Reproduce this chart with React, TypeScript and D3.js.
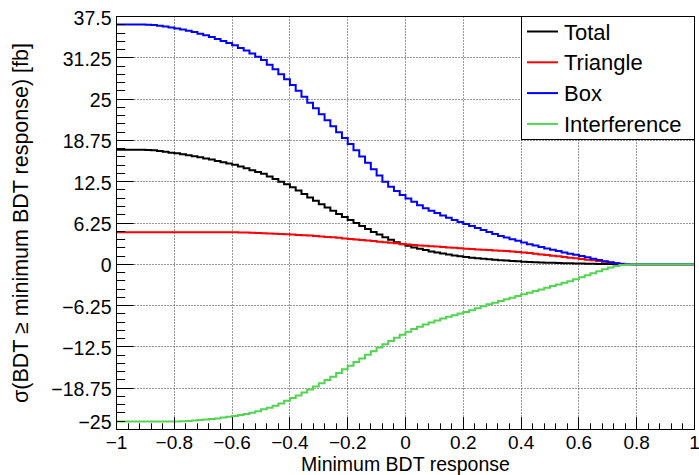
import React, { useEffect, useRef } from 'react';
import * as d3 from 'd3';

// 100 bins from -1 to 1, cumulative cross-section above the cut
const xMin = -1;
const xMax = 1;
const nBins = 100;

const total = [
  17.35, 17.35, 17.35, 17.35, 17.35, 17.3, 17.25, 17.15, 17.05, 16.9,
  16.8, 16.65, 16.5, 16.35, 16.2, 16.0, 15.85, 15.65, 15.45, 15.25,
  15.05, 14.8, 14.55, 14.25, 13.95, 13.7, 13.3, 12.9, 12.5, 12.1,
  11.65, 11.15, 10.65, 10.1, 9.6, 9.1, 8.6, 8.1, 7.6, 7.15,
  6.7, 6.25, 5.8, 5.35, 4.9, 4.5, 4.1, 3.7, 3.35, 3.05,
  2.8, 2.55, 2.35, 2.15, 1.95, 1.8, 1.65, 1.5, 1.35, 1.2,
  1.1, 1.0, 0.92, 0.84, 0.76, 0.7, 0.63, 0.57, 0.51, 0.45,
  0.4, 0.36, 0.32, 0.28, 0.25, 0.22, 0.19, 0.17, 0.15, 0.13,
  0.11, 0.09, 0.08, 0.06, 0.05, 0.04, 0.03, 0.02, 0.01, 0,
  0, 0, 0, 0, 0, 0, 0, 0, 0, 0
];

const triangle = [
  4.85, 4.85, 4.85, 4.85, 4.85, 4.85, 4.85, 4.85, 4.85, 4.85,
  4.85, 4.85, 4.85, 4.85, 4.85, 4.85, 4.85, 4.85, 4.85, 4.85,
  4.84, 4.82, 4.8, 4.77, 4.74, 4.71, 4.68, 4.64, 4.6, 4.55,
  4.5, 4.45, 4.4, 4.34, 4.28, 4.22, 4.15, 4.08, 4.0, 3.92,
  3.84, 3.76, 3.68, 3.6, 3.52, 3.43, 3.35, 3.26, 3.17, 3.08,
  3.0, 2.93, 2.86, 2.8, 2.74, 2.68, 2.62, 2.56, 2.5, 2.44,
  2.36, 2.3, 2.25, 2.2, 2.15, 2.1, 2.05, 2.0, 1.95, 1.88,
  1.8, 1.7, 1.6, 1.5, 1.4, 1.3, 1.2, 1.1, 1.0, 0.9,
  0.8, 0.7, 0.6, 0.5, 0.38, 0.27, 0.17, 0.08, 0.03, 0,
  0, 0, 0, 0, 0, 0, 0, 0, 0, 0
];

const box = [
  36.3, 36.3, 36.3, 36.3, 36.3, 36.25, 36.2, 36.1, 36.0, 35.85,
  35.7, 35.55, 35.35, 35.15, 34.9, 34.65, 34.4, 34.1, 33.8, 33.5,
  33.15, 32.75, 32.35, 31.9, 31.4, 30.9, 30.2, 29.5, 28.75, 28.0,
  27.15, 26.25, 25.35, 24.45, 23.6, 22.7, 21.8, 20.9, 20.0, 19.1,
  18.2, 17.25, 16.3, 15.35, 14.4, 13.45, 12.5, 11.75, 11.1, 10.5,
  9.95, 9.45, 8.95, 8.5, 8.1, 7.75, 7.4, 7.05, 6.7, 6.4,
  6.1, 5.8, 5.5, 5.2, 4.9, 4.6, 4.3, 4.05, 3.8, 3.55,
  3.3, 3.05, 2.85, 2.6, 2.4, 2.2, 2.0, 1.8, 1.6, 1.45,
  1.25, 1.05, 0.85, 0.65, 0.45, 0.3, 0.15, 0.05, 0.02, 0.01,
  0, 0, 0, 0, 0, 0, 0, 0, 0, 0
];

const interference = [
  -23.8, -23.8, -23.8, -23.8, -23.8, -23.8, -23.8, -23.8, -23.8, -23.8,
  -23.78, -23.75, -23.7, -23.65, -23.58, -23.5, -23.42, -23.32, -23.2, -23.08,
  -22.95, -22.8, -22.65, -22.45, -22.25, -21.95, -21.7, -21.4, -21.05, -20.65,
  -20.25, -19.85, -19.4, -18.95, -18.5, -18.0, -17.5, -17.0, -16.45, -15.9,
  -15.35, -14.8, -14.25, -13.7, -13.15, -12.6, -12.1, -11.6, -11.1, -10.65,
  -10.2, -9.8, -9.45, -9.1, -8.8, -8.5, -8.2, -7.95, -7.7, -7.45,
  -7.2, -6.95, -6.65, -6.35, -6.05, -5.8, -5.55, -5.3, -5.05, -4.8,
  -4.55, -4.3, -4.05, -3.8, -3.55, -3.3, -3.05, -2.8, -2.55, -2.25,
  -1.95, -1.65, -1.35, -1.05, -0.75, -0.5, -0.25, -0.1, -0.03, 0,
  0, 0, 0, 0, 0, 0, 0, 0, 0, 0
];

const seriesNames = ['Total', 'Triangle', 'Box', 'Interference'];
const seriesColors = ['#000000', '#ff0000', '#0000ff', '#52d452'];

const xTicks = [-1, -0.8, -0.6, -0.4, -0.2, 0, 0.2, 0.4, 0.6, 0.8, 1];
const yTicks = [37.5, 31.25, 25, 18.75, 12.5, 6.25, 0, -6.25, -12.5, -18.75, -25];

const xTitle = 'Minimum BDT response';
const yTitle = 'σ(BDT ≥ minimum BDT response) [fb]';

const font = "'Liberation Sans', Arial, Helvetica, sans-serif";

function App() {
  const ref = useRef<SVGSVGElement>(null);

  useEffect(() => {
    const W = 699, H = 475;
    const left = 116.5, right = 694.5, top = 16.5, bottom = 429.5;

    const svg = d3.select(ref.current);
    svg.selectAll('*').remove();

    svg.append('rect').attr('width', W).attr('height', H).attr('fill', '#fff');

    const x = d3.scaleLinear().domain([xMin, xMax]).range([left, right]);
    const y = d3.scaleLinear().domain([-25, 37.5]).range([bottom, top]);
    const crisp = (v: number) => Math.round(v - 0.5) + 0.5;

    // grid
    const grid = svg.append('g')
      .attr('stroke', '#333')
      .attr('stroke-width', 1)
      .attr('stroke-dasharray', '1,2');
    xTicks.forEach(t => {
      grid.append('line')
        .attr('x1', crisp(x(t))).attr('x2', crisp(x(t)))
        .attr('y1', top).attr('y2', bottom);
    });
    yTicks.forEach(t => {
      grid.append('line')
        .attr('x1', left).attr('x2', right)
        .attr('y1', crisp(y(t))).attr('y2', crisp(y(t)));
    });

    // histograms
    const binW = (xMax - xMin) / nBins;
    const line = d3.line<[number, number]>()
      .x(d => x(d[0]))
      .y(d => y(d[1]))
      .curve(d3.curveStepAfter);

    const allSeries = [total, triangle, box, interference];
    allSeries.forEach((vals, k) => {
      const pts: [number, number][] = vals.map((v, i) => [xMin + i * binW, v]);
      pts.push([xMax, vals[vals.length - 1]]);
      svg.append('path')
        .attr('d', line(pts))
        .attr('fill', 'none')
        .attr('stroke', seriesColors[k])
        .attr('stroke-width', 2);
    });

    // frame
    svg.append('rect')
      .attr('x', left).attr('y', top)
      .attr('width', right - left).attr('height', bottom - top)
      .attr('fill', 'none').attr('stroke', '#000');

    // ticks
    const ticks = svg.append('g').attr('stroke', '#000').attr('stroke-width', 1);
    const xMajor = 0.03 * (bottom - top);
    const yMajor = 0.03 * (right - left);
    for (let i = 0; i < xTicks.length; i++) {
      const t = xTicks[i];
      ticks.append('line')
        .attr('x1', crisp(x(t))).attr('x2', crisp(x(t)))
        .attr('y1', bottom).attr('y2', bottom - xMajor);
      if (i < xTicks.length - 1) {
        const step = (xTicks[i + 1] - t) / 5;
        for (let j = 1; j < 5; j++) {
          const xv = crisp(x(t + j * step));
          ticks.append('line')
            .attr('x1', xv).attr('x2', xv)
            .attr('y1', bottom).attr('y2', bottom - xMajor / 2);
        }
      }
    }
    for (let i = 0; i < yTicks.length; i++) {
      const t = yTicks[i];
      ticks.append('line')
        .attr('x1', left).attr('x2', left + yMajor)
        .attr('y1', crisp(y(t))).attr('y2', crisp(y(t)));
      if (i < yTicks.length - 1) {
        const step = (yTicks[i + 1] - t) / 5;
        for (let j = 1; j < 5; j++) {
          const yv = crisp(y(t + j * step));
          ticks.append('line')
            .attr('x1', left).attr('x2', left + yMajor / 2)
            .attr('y1', yv).attr('y2', yv);
        }
      }
    }

    const fmt = (v: number) => String(v).replace('-', '\u2212');

    // tick labels
    svg.append('g').selectAll('text')
      .data(xTicks)
      .enter()
      .append('text')
      .attr('x', d => x(d))
      .attr('y', 449)
      .attr('text-anchor', 'middle')
      .style('font-family', font)
      .style('font-size', '19px')
      .text(d => fmt(d));

    // the lowest label is lifted a little, as ROOT does, to clear the x labels
    const yMinTick = yTicks[yTicks.length - 1];
    svg.append('g').selectAll('text')
      .data(yTicks)
      .enter()
      .append('text')
      .attr('x', 111.5)
      .attr('y', d => d === yMinTick ? y(d) - 1 : y(d) + 8)
      .attr('text-anchor', 'end')
      .style('font-family', font)
      .style('font-size', '19.5px')
      .text(d => fmt(d));

    // axis titles
    svg.append('text')
      .attr('x', x(0))
      .attr('y', 470.8)
      .attr('text-anchor', 'middle')
      .style('font-family', font)
      .style('font-size', '19.5px')
      .text(xTitle);

    svg.append('text')
      .attr('transform', `translate(28,${(top + bottom) / 2}) rotate(-90)`)
      .attr('text-anchor', 'middle')
      .style('font-family', font)
      .style('font-size', '21.5px')
      .text(yTitle);

    // legend
    const lg = svg.append('g');
    lg.append('rect')
      .attr('x', 521.5).attr('y', top)
      .attr('width', right - 521.5).attr('height', 123)
      .attr('fill', '#fff').attr('stroke', '#000');
    seriesNames.forEach((name, k) => {
      const cy = 31.5 + k * 30.8;
      lg.append('line')
        .attr('x1', 527).attr('x2', 558)
        .attr('y1', cy).attr('y2', cy)
        .attr('stroke', seriesColors[k])
        .attr('stroke-width', 2);
      lg.append('text')
        .attr('x', 564)
        .attr('y', cy + 8)
        .style('font-family', font)
        .style('font-size', '22px')
        .text(name);
    });
  }, []);

  return (
    <svg
      ref={ref}
      width={699}
      height={475}
      style={{ position: 'absolute', left: 0, top: 0, display: 'block' }}
    />
  );
}

export default App;
